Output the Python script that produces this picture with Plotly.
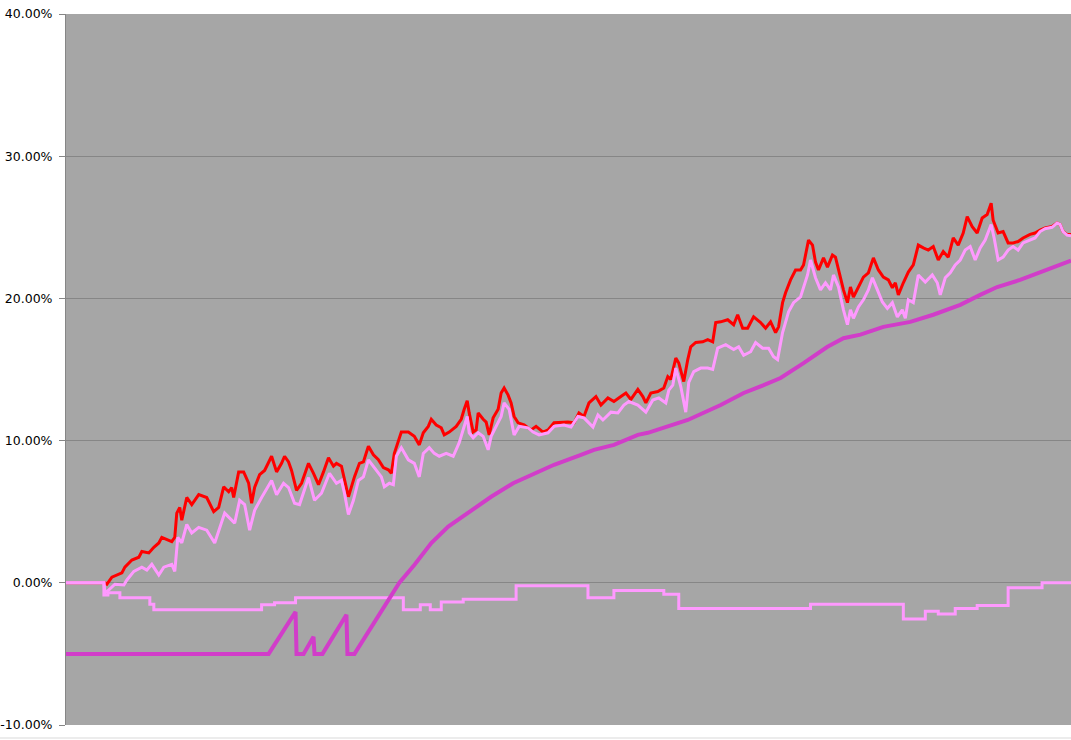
import plotly.graph_objects as go

# ---- data (day index, cumulative return in %) ----
red_day = [0, 39, 41, 46, 56, 59, 66, 73, 76, 83, 88, 93, 96, 106, 109, 111, 114, 116, 121, 126,
           133, 141, 148, 153, 158, 163, 166, 168, 173, 178, 183, 186, 189, 194, 199, 206, 211, 216, 219, 223,
           226, 231, 236, 243, 248, 253, 258, 263, 268, 271, 276, 281, 283, 286, 289, 294, 298, 303, 308, 313,
           318, 323, 326, 329, 333, 336, 343, 349, 354, 358, 363, 366, 371, 376, 379, 384, 391, 396, 399, 402,
           404, 408, 411, 413, 418, 421, 424, 428, 433, 436, 439, 443, 446, 449, 453, 459, 466, 471, 478, 483,
           489, 496, 503, 509, 514, 519, 524, 531, 536, 543, 549, 556, 561, 566, 573, 578, 581, 586, 593, 599,
           603, 606, 611, 614, 619, 623, 626, 631, 638, 643, 648, 651, 656, 663, 669, 673, 678, 683, 689, 696,
           701, 706, 711, 714, 718, 721, 726, 731, 736, 739, 744, 748, 751, 754, 759, 763, 768, 771, 774, 779,
           783, 786, 789, 794, 799, 804, 809, 814, 819, 824, 828, 831, 834, 839, 844, 849, 854, 859, 864, 869,
           874, 879, 884, 889, 894, 899, 903, 908, 913, 918, 923, 927, 929, 934, 939, 944, 949, 954, 959, 966,
           971, 976, 981, 988, 993, 996, 999, 1003, 1007]
red_pct = [0, 0, -0.1, 0.4, 0.7, 1.1, 1.6, 1.8, 2.2, 2.1, 2.5, 2.8, 3.2, 2.9, 3.2, 4.9, 5.3, 4.4, 6.0, 5.5,
           6.2, 6.0, 5.0, 5.3, 6.75, 6.4, 6.7, 6.0, 7.8, 7.8, 7.0, 5.6, 6.7, 7.6, 7.9, 8.9, 7.8, 8.4, 8.9, 8.5,
           7.9, 6.5, 7.0, 8.4, 7.7, 6.9, 7.8, 8.8, 8.2, 8.4, 8.2, 6.7, 6.05, 6.75, 7.45, 8.4, 8.5, 9.6, 9.0, 8.65,
           8.1, 7.95, 7.7, 9.1, 9.9, 10.6, 10.6, 10.3, 9.7, 10.55, 11.0, 11.5, 11.1, 10.9, 10.4, 10.6, 11.0, 11.5, 12.2, 12.8,
           11.95, 10.6, 10.75, 11.95, 11.5, 11.3, 10.4, 11.6, 12.2, 13.35, 13.7, 13.2, 12.65, 11.7, 11.25, 11.1, 10.75, 11.0, 10.6, 10.75,
           11.25, 11.3, 11.3, 11.25, 11.95, 11.7, 12.65, 13.1, 12.5, 13.0, 12.75, 13.1, 13.35, 12.9, 13.6, 13.1, 12.65, 13.35, 13.45, 13.7,
           14.5, 14.3, 15.8, 15.45, 14.15, 15.7, 16.6, 16.9, 16.95, 17.1, 16.95, 18.3, 18.35, 18.5, 18.15, 18.85, 17.9, 17.9, 18.7, 18.3,
           17.9, 18.35, 17.6, 18.0, 19.7, 20.4, 21.3, 22.0, 22.0, 22.35, 24.1, 23.75, 22.55, 22.0, 22.85, 22.2, 23.05, 22.9, 22.0, 20.6,
           19.7, 20.8, 20.1, 20.8, 21.5, 21.8, 22.85, 22.0, 21.5, 21.3, 20.75, 21.1, 20.25, 21.1, 21.85, 22.35, 23.75, 23.55, 23.4, 23.65,
           22.7, 23.3, 22.9, 24.25, 23.75, 24.6, 25.75, 25.05, 24.6, 25.65, 25.9, 26.7, 25.5, 24.6, 24.7, 23.9, 23.9, 24.0, 24.25, 24.5,
           24.6, 24.8, 24.95, 25.05, 25.3, 25.2, 24.7, 24.5, 24.5]

pink_day = [0, 38, 39, 43, 49, 58, 61, 68, 76, 81, 86, 93, 98, 106, 109, 112, 116, 121, 126, 133,
            141, 149, 159, 166, 169, 174, 179, 184, 189, 196, 206, 211, 218, 223, 229, 234, 243, 249, 256, 264,
            271, 276, 279, 283, 288, 293, 298, 303, 309, 316, 319, 324, 328, 331, 336, 343, 349, 354, 358, 364,
            369, 374, 381, 388, 394, 399, 402, 404, 408, 413, 418, 423, 426, 431, 436, 439, 444, 449, 454, 463,
            468, 474, 483, 489, 499, 506, 513, 519, 528, 533, 538, 546, 553, 559, 564, 573, 581, 588, 594, 601,
            604, 608, 611, 616, 621, 624, 629, 636, 643, 648, 653, 661, 669, 674, 679, 686, 691, 698, 704, 709,
            713, 718, 724, 729, 736, 743, 746, 751, 756, 761, 766, 769, 774, 779, 783, 786, 789, 794, 799, 804,
            808, 813, 818, 823, 828, 833, 838, 841, 844, 849, 854, 861, 868, 873, 876, 881, 886, 891, 896, 901,
            906, 911, 916, 921, 927, 930, 934, 939, 944, 949, 954, 959, 966, 971, 976, 981, 988, 993, 996, 999,
            1003, 1007]
pink_pct = [0, 0, -0.7, -0.5, -0.1, -0.15, 0.2, 0.8, 1.1, 0.9, 1.3, 0.55, 1.1, 1.3, 0.8, 3.2, 2.8, 4.1, 3.5, 3.9,
            3.7, 2.8, 4.9, 4.4, 4.2, 5.8, 5.5, 3.7, 5.1, 6.0, 7.2, 6.2, 7.0, 6.7, 5.6, 5.5, 7.4, 5.8, 6.3, 7.7,
            7.0, 7.2, 6.3, 4.8, 5.8, 7.2, 7.45, 8.65, 8.1, 7.45, 6.75, 7.0, 6.9, 8.9, 9.5, 8.65, 8.4, 7.45, 9.1, 9.5,
            9.1, 8.9, 9.1, 8.9, 9.85, 11.0, 11.7, 10.55, 10.2, 10.55, 10.3, 9.35, 10.3, 11.0, 11.7, 12.65, 12.2, 10.4, 11.0, 10.9,
            10.6, 10.4, 10.55, 11.0, 11.1, 10.95, 11.7, 11.6, 10.95, 11.8, 11.45, 12.0, 11.95, 12.5, 12.75, 12.5, 12.0, 12.85, 13.0, 12.65,
            13.55, 13.9, 15.1, 13.8, 12.0, 14.1, 14.85, 15.1, 15.1, 15.0, 16.5, 16.75, 16.4, 16.6, 16.0, 16.25, 16.9, 16.5, 16.5, 15.9,
            15.7, 17.6, 19.05, 19.7, 20.1, 21.65, 22.7, 21.45, 20.6, 21.1, 20.6, 21.65, 20.8, 19.2, 18.15, 19.2, 18.6, 19.4, 19.9, 20.6,
            21.45, 20.6, 19.75, 19.3, 19.7, 18.7, 19.2, 18.6, 19.9, 19.7, 21.65, 21.15, 21.65, 21.1, 20.25, 21.45, 21.8, 22.35, 22.7, 23.4,
            23.65, 22.7, 23.55, 24.1, 25.2, 24.25, 22.7, 22.9, 23.4, 23.65, 23.4, 23.9, 24.1, 24.25, 24.7, 24.9, 25.0, 25.3, 25.2, 24.7,
            24.45, 24.4]

step_day = [0, 38, 42, 54, 84, 88, 196, 209, 230, 338, 355, 365, 376, 398, 451, 523, 549, 599, 614, 746,
            839, 861, 874, 891, 913, 944, 978, 1007]
step_pct = [0, -0.85, -0.7, -1.05, -1.5, -1.9, -1.55, -1.4, -1.05, -1.9, -1.55, -1.9, -1.35, -1.15, -0.2, -1.05, -0.55, -0.8, -1.8, -1.5,
            -2.55, -2.0, -2.2, -1.8, -1.6, -0.35, 0, 0]

mag_day = [0, 196, 203, 230, 231, 238, 248, 249, 257, 281, 282, 289, 316, 334, 349, 366, 383, 404, 426, 448,
           466, 489, 516, 529, 549, 573, 583, 616, 623, 656, 679, 699, 716, 739, 756, 763, 779, 796, 819, 846,
           869, 896, 916, 933, 956, 983, 1007]
mag_pct = [-5, -5, -5, -2.05, -5, -5, -3.8, -5, -5, -2.25, -5, -5, -2.0, 0, 1.25, 2.8, 3.95, 5.0, 6.05, 7.0,
           7.6, 8.3, 9.0, 9.35, 9.7, 10.4, 10.55, 11.3, 11.45, 12.5, 13.35, 13.9, 14.4, 15.45, 16.25, 16.6, 17.2, 17.45, 18.0, 18.35,
           18.85, 19.55, 20.25, 20.8, 21.3, 22.0, 22.65]

y_ticks = [-10, 0, 10, 20, 30, 40]
y_labels = ["-10.00%", "0.00%", "10.00%", "20.00%", "30.00%", "40.00%"]

fig = go.Figure()
fig.add_trace(go.Scatter(x=red_day, y=red_pct, mode="lines",
                         line=dict(color="#FF0000", width=3), showlegend=False))
fig.add_trace(go.Scatter(x=pink_day, y=pink_pct, mode="lines",
                         line=dict(color="#FF99FF", width=3), showlegend=False))
fig.add_trace(go.Scatter(x=step_day, y=step_pct, mode="lines", line_shape="hv",
                         line=dict(color="#FF99FF", width=3), showlegend=False))
fig.add_trace(go.Scatter(x=mag_day, y=mag_pct, mode="lines",
                         line=dict(color="#D13DC9", width=4), showlegend=False))

fig.update_layout(
    width=1071, height=740,
    margin=dict(l=64, r=0, t=14, b=15),
    paper_bgcolor="white", plot_bgcolor="#A6A6A6",
    font=dict(family="DejaVu Sans", size=12.5, color="black"),
    xaxis=dict(range=[0, 1007], showgrid=False, zeroline=False, showticklabels=False,
               showline=False, ticks=""),
    yaxis=dict(range=[-10, 40], tickvals=y_ticks, ticktext=y_labels,
               showgrid=True, gridcolor="#868686", gridwidth=1, zeroline=False,
               showline=True, linecolor="#868686", linewidth=1,
               ticks="outside", ticklen=6, tickcolor="#868686", ticklabelstandoff=4),
    shapes=[dict(type="line", xref="paper", yref="paper", x0=-0.07, x1=1.0,
                 y0=-0.0183, y1=-0.0183, line=dict(color="#D9D9D9", width=1))],
)

fig.write_html("out.html", config={"displayModeBar": False},
               post_script="document.body.style.margin='0';document.body.style.overflow='hidden';")
